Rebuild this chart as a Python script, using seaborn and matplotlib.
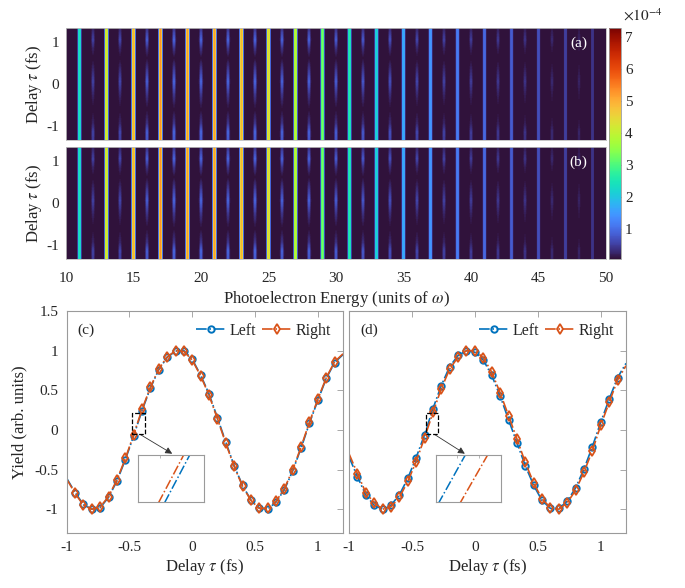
import numpy as np
import matplotlib
matplotlib.use("Agg")
import matplotlib.pyplot as plt
import matplotlib.patches as mpatches
import seaborn as sns

# ---------------- data ----------------
# harmonic (odd) lines: peak yield in units of 1e-4
harm_orders = [11, 13, 15, 17, 19, 21, 23, 25, 27, 29, 31, 33, 35, 37, 39, 41, 43, 45, 47, 49]
harm_amp = [2.4, 4.4, 5.0, 5.3, 5.2, 5.2, 5.0, 4.6, 4.0, 3.3, 2.6, 2.2, 1.7, 1.45, 1.15, 0.95, 0.8, 0.65, 0.5, 0.38]
# sideband (even) lines: peak yield in units of 1e-4
sb_orders = [12, 14, 16, 18, 20, 22, 24, 26, 28, 30, 32, 34, 36, 38, 40, 42, 44, 46, 48]
sb_amp = [0.55, 0.6, 0.85, 0.95, 0.95, 0.95, 0.95, 0.9, 0.9, 0.85, 0.8, 0.7, 0.6, 0.55, 0.5, 0.45, 0.4, 0.3, 0.25]
# relative sideband brightness along the delay axis
sb_prof_tau = [-1.333, -1.14, -0.94, -0.6, -0.26, 0.06, 0.378, 0.62, 0.855, 1.05, 1.25, 1.333]
sb_prof_rel = [0.9, 1.0, 0.45, 0.05, 0.45, 1.0, 0.45, 0.05, 0.45, 1.0, 0.6, 0.4]

energy_ticks = [10, 15, 20, 25, 30, 35, 40, 45, 50]
delay_ticks = [-1, 0, 1]
cbar_ticks = [1, 2, 3, 4, 5, 6, 7]

tau_pts = [-1.0, -0.933, -0.867, -0.8, -0.733, -0.667, -0.6, -0.533, -0.467, -0.4,
           -0.333, -0.267, -0.2, -0.133, -0.067, 0.0, 0.067, 0.133, 0.2, 0.267,
           0.333, 0.4, 0.467, 0.533, 0.6, 0.667, 0.733, 0.8, 0.867, 0.933,
           1.0, 1.067, 1.133, 1.2]
yield_c_left = [-0.61, -0.79, -0.94, -1.00, -0.98, -0.85, -0.645, -0.375, -0.075, 0.245,
                0.53, 0.76, 0.915, 0.995, 1.00, 0.89, 0.69, 0.455, 0.155, -0.155,
                -0.45, -0.70, -0.885, -0.985, -1.00, -0.91, -0.755, -0.515, -0.225, 0.085,
                0.375, 0.65, 0.85, 0.95]
yield_c_right = [-0.62, -0.80, -0.95, -1.00, -0.97, -0.84, -0.63, -0.36, -0.06, 0.26,
                 0.54, 0.77, 0.92, 1.00, 0.99, 0.88, 0.68, 0.44, 0.14, -0.17,
                 -0.46, -0.71, -0.89, -0.99, -0.99, -0.90, -0.74, -0.50, -0.21, 0.10,
                 0.39, 0.66, 0.86, 0.96]
yield_d_left = [-0.34, -0.59, -0.82, -0.95, -1.00, -0.95, -0.82, -0.61, -0.35, -0.06,
                0.27, 0.56, 0.80, 0.94, 1.00, 0.98, 0.88, 0.69, 0.43, 0.13,
                -0.16, -0.45, -0.70, -0.89, -0.99, -0.99, -0.90, -0.73, -0.49, -0.21,
                0.10, 0.39, 0.66, 0.84]
yield_d_right = [-0.30, -0.55, -0.79, -0.92, -1.00, -0.97, -0.85, -0.65, -0.40, -0.10,
                 0.22, 0.52, 0.77, 0.92, 1.00, 1.00, 0.91, 0.73, 0.47, 0.18,
                 -0.11, -0.41, -0.67, -0.87, -0.98, -1.00, -0.92, -0.76, -0.53, -0.26,
                 0.06, 0.35, 0.63, 0.81]
delay_tick_labels = ["-1", "-0.5", "0", "0.5", "1"]
delay_tick_vals = [-1, -0.5, 0, 0.5, 1]
yield_tick_labels = ["-1", "-0.5", "0", "0.5", "1", "1.5"]
yield_tick_vals = [-1, -0.5, 0, 0.5, 1, 1.5]

# ---------------- style ----------------
sns.set_style("white")
plt.rcParams["font.family"] = ["Liberation Serif", "DejaVu Serif"]
plt.rcParams["mathtext.fontset"] = "stix"
plt.rcParams["axes.unicode_minus"] = False

BLUE = "#0072BD"
ORANGE = "#D95319"
FRAME = "#9a9a9a"
TXT = "#262626"

W, H = 685, 588
fig = plt.figure(figsize=(W / 100, H / 100), dpi=100)


def box(x0, y0, x1, y1):
    return [x0 / W, 1 - y1 / H, (x1 - x0) / W, (y1 - y0) / H]


axa = fig.add_axes(box(66, 28, 606, 140))
axb = fig.add_axes(box(66, 147, 606, 259))
cax = fig.add_axes(box(609, 28, 621, 259))
axc = fig.add_axes(box(66.7, 311, 343, 533))
axd = fig.add_axes(box(349, 311, 626, 533))

# ---------------- heatmaps (a), (b) ----------------
# one cell per output pixel: 540 energy cells for 10..50, 112 delay cells for +-4/3 fs
nx, ny = 540, 112
px_per_E = nx / 40.0
E = 10 + (np.arange(nx) + 0.5) / px_per_E
dtau = (8 / 3) / ny
tau_h = 4 / 3 - (np.arange(ny) + 0.5) * dtau
prof = np.interp(tau_h, sb_prof_tau, sb_prof_rel)


def build_map():
    img = np.zeros((ny, nx))
    for q, a in zip(harm_orders, harm_amp):
        # flat-topped line shape about 3 px wide
        img += a * 1e-4 * np.exp(-0.5 * ((E - q) / 0.11) ** 4)[None, :]
    for q, a in zip(sb_orders, sb_amp):
        img += a * 1e-4 * prof[:, None] * np.exp(-0.5 * ((E - q) / 0.085) ** 2)[None, :]
    return img


vmin, vmax = 0.05e-4, 7.27e-4
sns.heatmap(build_map(), ax=axa, cmap="turbo", vmin=vmin, vmax=vmax, cbar=False,
            xticklabels=False, yticklabels=False)
sns.heatmap(build_map(), ax=axb, cmap="turbo", vmin=vmin, vmax=vmax, cbar=True, cbar_ax=cax,
            xticklabels=False, yticklabels=False)


def e_idx(e):
    return (e - 10) * px_per_E


def t_idx(t):
    return (4 / 3 - t) / dtau


for ax, lab in ((axa, "(a)"), (axb, "(b)")):
    ax.set_xlim(0, nx)
    ax.set_ylim(ny, 0)
    ax.set_yticks([t_idx(t) for t in delay_ticks])
    ax.set_yticklabels([str(t) for t in delay_ticks], fontsize=11, color=TXT)
    ax.tick_params(length=0, pad=5)
    ax.set_ylabel(r"Delay $\tau$ (fs)", fontsize=12, color=TXT, labelpad=2)
    for s in ax.spines.values():
        s.set_visible(True)
        s.set_color("#bdbdbd")
        s.set_linewidth(0.6)
    ax.text(0.965, 0.86, lab, transform=ax.transAxes, color="white", fontsize=11,
            ha="right", va="center")
axa.set_xticks([])
axb.set_xticks([e_idx(e) for e in energy_ticks])
axb.set_xticklabels([str(e) for e in energy_ticks], fontsize=11, color=TXT)
axb.tick_params(axis="x", pad=9)
axb.set_xlabel(r"Photoelectron Energy (units of $\omega$)", fontsize=12, color=TXT, labelpad=3)

cb = axb.collections[0].colorbar
cb.set_ticks([v * 1e-4 for v in cbar_ticks])
cb.set_ticklabels([str(v) for v in cbar_ticks])
cb.ax.tick_params(labelsize=11, direction="in", length=3, width=0.5, colors=TXT, pad=3)
cb.outline.set_edgecolor(FRAME)
cb.outline.set_linewidth(0.6)
fig.text(623 / W, 1 - 15 / H, r"$\times10^{-4}$", fontsize=11, color=TXT, ha="left", va="center")

# ---------------- line plots (c), (d) ----------------
tau_arr = np.array(tau_pts)
inner = slice(1, len(tau_pts) - 1)


def draw(ax, left, right, show_markers=True, lw=1.2):
    kw_common = dict(ax=ax, linestyle="-.", linewidth=lw, estimator=None)
    if show_markers:
        sns.lineplot(x=tau_arr, y=np.array(left), color=BLUE, marker="o", markersize=4.6,
                     markerfacecolor="none", markeredgecolor=BLUE, markeredgewidth=1.4,
                     markevery=inner, label="Left", **kw_common)
        sns.lineplot(x=tau_arr, y=np.array(right), color=ORANGE, marker="d", markersize=5.2,
                     markerfacecolor="none", markeredgecolor=ORANGE, markeredgewidth=1.3,
                     markevery=inner, label="Right", **kw_common)
    else:
        sns.lineplot(x=tau_arr, y=np.array(left), color=BLUE, **kw_common)
        sns.lineplot(x=tau_arr, y=np.array(right), color=ORANGE, **kw_common)


panels = [
    (axc, yield_c_left, yield_c_right, "(c)", (-0.48, -0.05), (-0.414, -0.058), (-0.16, -0.30),
     box(138.3, 455, 204, 501.7), (-0.4548, -0.4208), (0.0496, 0.1104)),
    (axd, yield_d_left, yield_d_right, "(d)", (-0.39, -0.05), (-0.32, -0.058), (-0.08, -0.30),
     box(435.7, 455, 501, 501.7), (-0.3786, -0.351), (0.053, 0.107)),
]

for ax, yl, yr, lab, rxy, a0, a1, ibox, ixl, iyl in panels:
    draw(ax, yl, yr)
    ax.set_xlim(-1, 1.2)
    ax.set_ylim(-1.3, 1.5)
    ax.set_xticks(delay_tick_vals)
    ax.set_xticklabels(delay_tick_labels)
    ax.set_yticks(yield_tick_vals)
    ax.set_yticklabels(yield_tick_labels)
    ax.tick_params(direction="in", top=True, right=True, length=4, width=0.6,
                   color=FRAME, labelsize=11, labelcolor=TXT, pad=6)
    for s in ax.spines.values():
        s.set_color(FRAME)
        s.set_linewidth(0.8)
    ax.set_xlabel(r"Delay $\tau$ (fs)", fontsize=12, color=TXT, labelpad=2)
    ax.set_ylabel("")
    ax.text(0.04, 0.915, lab, transform=ax.transAxes, fontsize=11, color=TXT,
            ha="left", va="center")
    leg = ax.legend(loc="upper right", ncol=2, frameon=False, fontsize=11.5,
                    handlelength=1.9, handletextpad=0.2, columnspacing=0.4,
                    borderaxespad=0.35, numpoints=1)
    for t in leg.get_texts():
        t.set_color(TXT)
    ax.add_patch(mpatches.Rectangle(rxy, 0.10, 0.26, fill=False, ec="black",
                                    ls="--", lw=0.9, zorder=5))
    ax.annotate("", xy=a1, xytext=a0,
                arrowprops=dict(arrowstyle="-|>", color="#333333", lw=0.6,
                                mutation_scale=10, shrinkA=0, shrinkB=0))
    ins = fig.add_axes(ibox)
    draw(ins, yl, yr, show_markers=False, lw=1.1)
    ins.set_xlim(*ixl)
    ins.set_ylim(*iyl)
    ins.set_xticks(np.linspace(ixl[0], ixl[1], 4)[1:-1])
    ins.set_yticks([])
    ins.set_xticklabels([])
    ins.tick_params(direction="in", top=True, length=2, width=0.5, color=FRAME)
    ins.set_xlabel("")
    ins.set_ylabel("")
    for s in ins.spines.values():
        s.set_color(FRAME)
        s.set_linewidth(0.8)

axc.set_ylabel("Yield (arb. units)", fontsize=12, color=TXT, labelpad=5)
axd.set_yticklabels([])

fig.savefig("out.png", dpi=100)
